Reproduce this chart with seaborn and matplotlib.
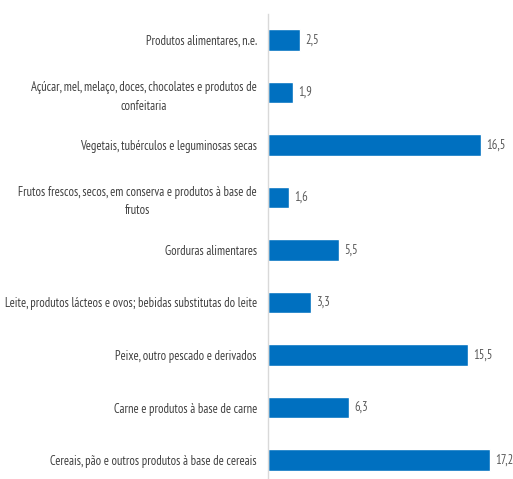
import matplotlib
matplotlib.use("Agg")
import matplotlib.pyplot as plt
import seaborn as sns
import pandas as pd

categories = [
    "Produtos alimentares, n.e.",
    "Açúcar, mel, melaço, doces, chocolates e produtos de\nconfeitaria",
    "Vegetais, tubérculos e leguminosas secas",
    "Frutos frescos, secos, em conserva e produtos à base de\nfrutos",
    "Gorduras alimentares",
    "Leite, produtos lácteos e ovos; bebidas substitutas do leite",
    "Peixe, outro pescado e derivados",
    "Carne e produtos à base de carne",
    "Cereais, pão e outros produtos à base de cereais",
]
values = [2.5, 1.9, 16.5, 1.6, 5.5, 3.3, 15.5, 6.3, 17.2]

df = pd.DataFrame({"cat": categories, "val": values})

sns.set_theme(style="white")
plt.rcParams["font.family"] = ["PT Sans Narrow", "DejaVu Sans"]

W, H = 513, 479
fig = plt.figure(figsize=(W / 100, H / 100), dpi=100)
ax_left, ax_right = 268, 510
ax_top, ax_bot = 14, 479
ax = fig.add_axes([ax_left / W, 1 - ax_bot / H, (ax_right - ax_left) / W, (ax_bot - ax_top) / H])

sns.barplot(data=df, x="val", y="cat", color="#0070C0", saturation=1, width=0.41, ax=ax, orient="h")

ax.set_xlim(0, (ax_right - ax_left) / 12.9)
ax.set_ylim((479 - 40) / 52.5, -(40 - 14) / 52.5)
ax.set_xlabel("")
ax.set_ylabel("")
ax.set_xticks([])
for s in ["top", "right", "bottom"]:
    ax.spines[s].set_visible(False)
ax.spines["left"].set_color("#D9D9D9")
ax.spines["left"].set_linewidth(1)
ax.tick_params(axis="y", length=0, pad=8, labelsize=9, labelcolor="#404040")
for t in ax.get_yticklabels():
    t.set_multialignment("center")
    t.set_linespacing(1.55)

labels = [f"{v:.1f}".replace(".", ",") for v in values]
ax.bar_label(ax.containers[0], labels=labels, padding=4, fontsize=9, color="#595959")

fig.savefig("out.png", dpi=100, facecolor="white")
